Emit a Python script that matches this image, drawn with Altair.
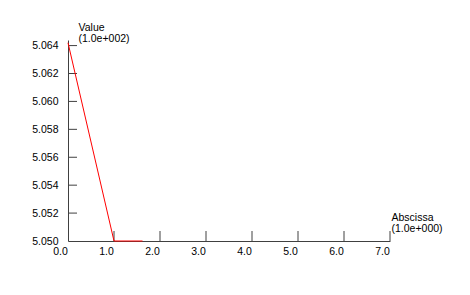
import altair as alt
import pandas as pd

# data
xs = [0.0, 1.0, 1.62]
ys = [5.0642, 5.0500, 5.0500]
x_ticks = [1.0, 2.0, 3.0, 4.0, 5.0, 6.0, 7.0]
y_ticks = [5.052, 5.054, 5.056, 5.058, 5.060, 5.062, 5.064]
x_title = ["Abscissa", "(1.0e+000)"]
y_title = ["Value", "(1.0e+002)"]

W, H = 322, 201
AX = "#404040"
FONT = "Liberation Sans"

line_df = pd.DataFrame({"x": xs, "y": ys})
xt_df = pd.DataFrame({"t": x_ticks})
yt_df = pd.DataFrame({"t": y_ticks})

xscale = alt.Scale(domain=[0, 7.0], nice=False, zero=False)
yscale = alt.Scale(domain=[5.050, 5.0644], nice=False, zero=False)

xaxis = alt.Axis(
    values=[0.0] + x_ticks, format=".1f", ticks=False, grid=False,
    domainColor=AX, labelColor="black", labelFont=FONT, labelFontSize=10.5,
    labelPadding=5, labelOffset=-8, labelFlush=False, labelOverlap=False,
    title=x_title, titleX=W + 1, titleY=-21, titleAlign="left",
    titleBaseline="alphabetic", titleFont=FONT, titleFontSize=10.5,
    titleFontWeight="normal", titleLineHeight=11, titleColor="black",
)
yaxis = alt.Axis(
    values=[5.050] + y_ticks, format=".3f", ticks=False, grid=False,
    domainColor=AX, labelColor="black", labelFont=FONT, labelFontSize=10.5,
    labelPadding=10, labelFlush=False, labelOverlap=False,
    title=y_title, titleX=10, titleY=-10, titleAngle=0, titleAlign="left",
    titleBaseline="alphabetic", titleFont=FONT, titleFontSize=10.5,
    titleFontWeight="normal", titleLineHeight=11, titleColor="black",
)

base_line = alt.Chart(line_df).mark_line(color="#ff0000", strokeWidth=1, clip=False).encode(
    x=alt.X("x:Q", scale=xscale, axis=xaxis),
    y=alt.Y("y:Q", scale=yscale, axis=yaxis),
)

xt = alt.Chart(xt_df).mark_rule(color=AX, strokeWidth=1).encode(
    x=alt.X("t:Q", scale=xscale, axis=xaxis),
    y=alt.value(H),
    y2=alt.value(H - 10),
)
yt = alt.Chart(yt_df).mark_rule(color=AX, strokeWidth=1).encode(
    y=alt.Y("t:Q", scale=yscale, axis=yaxis),
    x=alt.value(0),
    x2=alt.value(9),
)

chart = alt.layer(xt, yt, base_line).properties(
    width=W, height=H,
    autosize=alt.AutoSizeParams(type="none"),
    padding={"left": 68, "top": 40, "right": 80, "bottom": 54},
    background="white",
).configure_view(stroke=None)

chart.save("out.html", embed_options={"renderer": "svg", "actions": False})
